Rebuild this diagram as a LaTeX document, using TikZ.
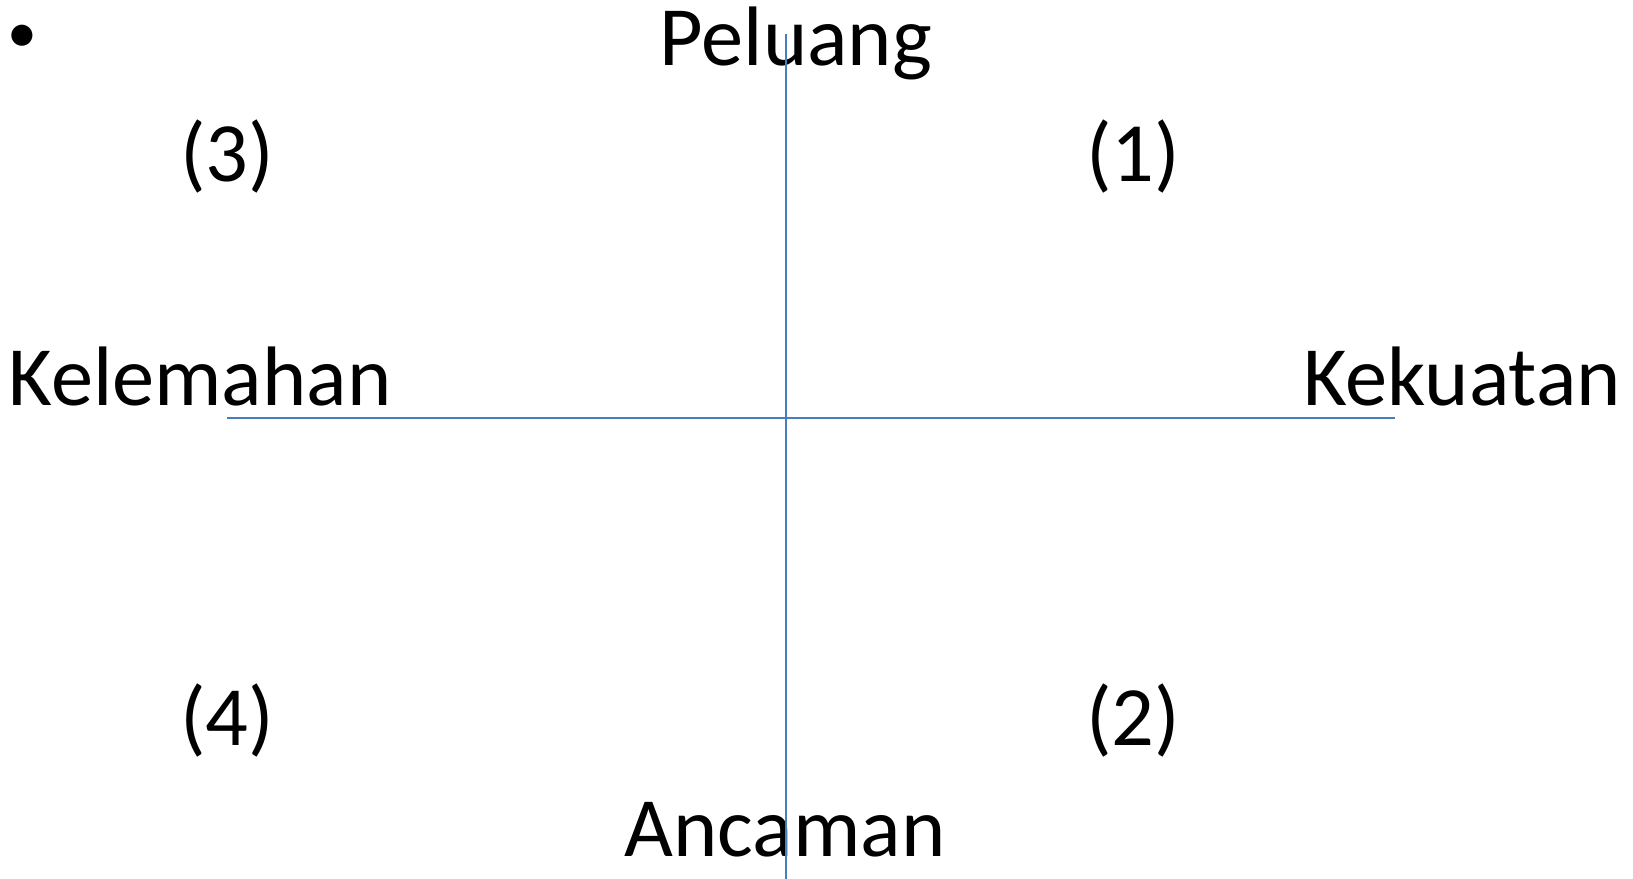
\documentclass[tikz,border=0pt]{standalone}
\usepackage{fontspec}
\setmainfont{Carlito}
\definecolor{axisblue}{RGB}{74,126,187}
\tikzset{
    axis line/.style={draw=axisblue,line width=0.8pt},
    label text/.style={anchor=base,inner sep=0pt,font=\fontsize{24}{28}\selectfont},
}

\begin{document}
\begin{tikzpicture}[x=0.01cm,y=-0.01cm]
\useasboundingbox (0,0) rectangle (1633,879);
\node[label text,font=\fontsize{17}{20}\selectfont] (dot) at (22,53) {•};
\node[label text] (peluang) at (796,66) {Peluang};
\node[label text] (ancaman) at (785,856) {Ancaman};
\node[label text] (kelemahan) at (200,405) {Kelemahan};
\node[label text] (kekuatan) at (1462,405) {Kekuatan};
\node[label text] (q3) at (227,182) {(3)};
\node[label text] (q1) at (1133,182) {(1)};
\node[label text] (q4) at (227,745) {(4)};
\node[label text] (q2) at (1133,745) {(2)};
\coordinate (top) at (786,34);
\coordinate (bottom) at (786,879);
\coordinate (left) at (227,418);
\coordinate (right) at (1395,418);
\draw[axis line] (top) -- (bottom);
\draw[axis line] (left) -- (right);
\end{tikzpicture}
\end{document}
